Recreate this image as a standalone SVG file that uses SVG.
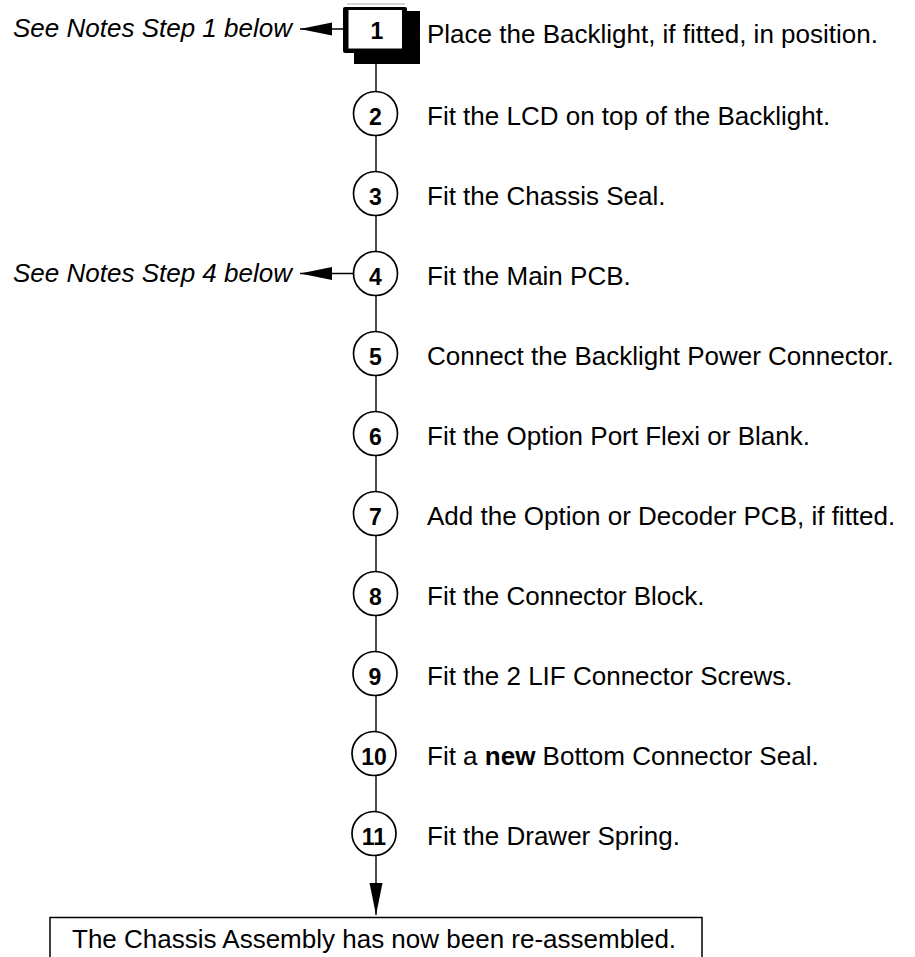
<svg xmlns="http://www.w3.org/2000/svg" width="915" height="957" viewBox="0 0 915 957">
<style>
.lbl{font-family:"Liberation Sans",Arial,sans-serif;font-size:26px;fill:#000}
.note{font-family:"Liberation Sans",Arial,sans-serif;font-size:26px;font-style:italic;fill:#000}
.num{font-family:"Liberation Sans",Arial,sans-serif;font-size:23px;font-weight:bold;fill:#000;text-anchor:middle}
.step{fill:#fff;stroke:#000;stroke-width:1.7}
.conn{stroke:#000;stroke-width:1.4;fill:none}
</style>
<defs>
<marker id="ah" markerUnits="userSpaceOnUse" markerWidth="33" markerHeight="14" refX="32" refY="7" orient="auto">
<path d="M0,0.5 L32,7 L0,13.5 Z" fill="#000"/>
</marker>
</defs>
<rect width="915" height="957" fill="#fff"/>
<g id="connectors">
<line class="conn" x1="343" y1="29" x2="300" y2="29" marker-end="url(#ah)"/>
<line class="conn" x1="353.5" y1="273.5" x2="300" y2="273.5" marker-end="url(#ah)"/>
<line class="conn" x1="376" y1="64" x2="376" y2="91.5"/>
<line class="conn" x1="376" y1="135.5" x2="376" y2="171.5"/>
<line class="conn" x1="376" y1="215.5" x2="376" y2="251.5"/>
<line class="conn" x1="376" y1="295.5" x2="376" y2="331.5"/>
<line class="conn" x1="376" y1="375.5" x2="376" y2="411.5"/>
<line class="conn" x1="376" y1="455.5" x2="376" y2="491.5"/>
<line class="conn" x1="376" y1="535.5" x2="376" y2="571.5"/>
<line class="conn" x1="376" y1="615.5" x2="376" y2="651.5"/>
<line class="conn" x1="376" y1="695.5" x2="376" y2="731.5"/>
<line class="conn" x1="376" y1="775.5" x2="376" y2="811.5"/>
<line class="conn" x1="376" y1="855.5" x2="376" y2="915" marker-end="url(#ah)"/>
</g>
<g id="note1"><text class="note" x="13" y="37">See Notes Step 1 below</text></g>
<g id="note4"><text class="note" x="13" y="282">See Notes Step 4 below</text></g>
<g id="step1">
<line x1="347" y1="4" x2="405" y2="4" stroke="#aaa" stroke-width="1"/>
<rect x="354" y="11" width="66" height="53" fill="#000"/>
<rect x="343" y="7" width="64" height="46" rx="2" fill="#000"/>
<rect x="348.5" y="10" width="53.5" height="38.5" fill="#fff"/>
<text class="num" x="377" y="39">1</text>
<text class="lbl" x="427" y="42.5">Place the Backlight, if fitted, in position.</text>
</g>
<g id="step2"><circle class="step" cx="375.5" cy="113.5" r="22"/><text class="num" x="375.5" y="125">2</text><text class="lbl" x="427" y="124.5">Fit the LCD on top of the Backlight.</text></g>
<g id="step3"><circle class="step" cx="375.5" cy="193.5" r="22"/><text class="num" x="375.5" y="205">3</text><text class="lbl" x="427" y="204.5">Fit the Chassis Seal.</text></g>
<g id="step4"><circle class="step" cx="375.5" cy="273.5" r="22"/><text class="num" x="375.5" y="285">4</text><text class="lbl" x="427" y="284.5">Fit the Main PCB.</text></g>
<g id="step5"><circle class="step" cx="375.5" cy="353.5" r="22"/><text class="num" x="375.5" y="365">5</text><text class="lbl" x="427" y="364.5">Connect the Backlight Power Connector.</text></g>
<g id="step6"><circle class="step" cx="375.5" cy="433.5" r="22"/><text class="num" x="375.5" y="445">6</text><text class="lbl" x="427" y="444.5">Fit the Option Port Flexi or Blank.</text></g>
<g id="step7"><circle class="step" cx="375.5" cy="513.5" r="22"/><text class="num" x="375.5" y="525">7</text><text class="lbl" x="427" y="524.5">Add the Option or Decoder PCB, if fitted.</text></g>
<g id="step8"><circle class="step" cx="375.5" cy="593.5" r="22"/><text class="num" x="375.5" y="605">8</text><text class="lbl" x="427" y="604.5">Fit the Connector Block.</text></g>
<g id="step9"><circle class="step" cx="375" cy="673.5" r="22"/><text class="num" x="375" y="685">9</text><text class="lbl" x="427" y="684.5">Fit the 2 LIF Connector Screws.</text></g>
<g id="step10"><circle class="step" cx="374" cy="753.5" r="22"/><text class="num" x="374" y="765">10</text><text class="lbl" x="427" y="764.5">Fit a <tspan font-weight="bold">new</tspan> Bottom Connector Seal.</text></g>
<g id="step11"><circle class="step" cx="374" cy="833.5" r="22"/><text class="num" x="374" y="845">11</text><text class="lbl" x="427" y="844.5">Fit the Drawer Spring.</text></g>
<g id="end">
<rect x="50" y="917.5" width="652" height="60" fill="#fff" stroke="#000" stroke-width="1.5"/>
<text class="lbl" x="72" y="947.5">The Chassis Assembly has now been re-assembled.</text>
</g>
</svg>
